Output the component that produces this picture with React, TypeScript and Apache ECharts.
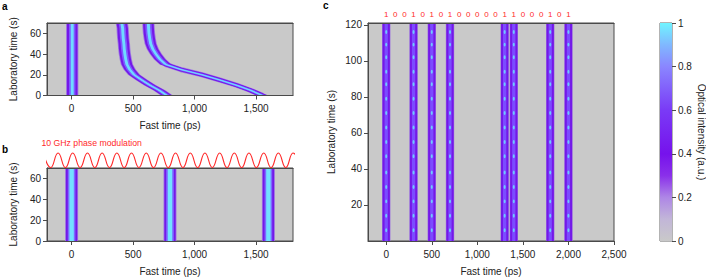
import React, { useEffect, useRef } from 'react';
import * as echarts from 'echarts';

const FONT = '"Liberation Sans", Arial, Helvetica, sans-serif';
const INK = '#222222';
const FRAME = '#4a4a4a';
const BG = '#c9c9c9';
const RED = '#ff2a2a';

// ---- Panel a: pulse centre (ps) at each laboratory time (s)
const labTimeA = [70, 65, 60, 55, 50, 45, 40, 35, 30, 25, 20, 15, 10, 5, 0];
const pulseA1 = [5, 5, 5, 5, 5, 5, 5, 5, 5, 5, 5, 5, 5, 5, 5];
const pulseA2 = [408, 415, 417, 420, 425, 428, 433, 440, 450, 472, 508, 570, 637, 712, 775];
const pulseA3 = [624, 626, 629, 635, 643, 660, 685, 718, 765, 890, 1060, 1205, 1340, 1455, 1551];

// ---- Panel b
const labTimeB = [0, 70];
const pulseCentresB = [0, 800, 1600];
const modPeaksX = [-229, -110, 9, 129, 248, 368, 487, 607, 726, 845, 965, 1084, 1204, 1323, 1442, 1562, 1681, 1800];
const modTroughsX = [-170, -50, 69, 189, 308, 428, 547, 666, 786, 905, 1025, 1144, 1263, 1383, 1502, 1622, 1741, 1860];

// ---- Panel c
const bitsC = ['1', '0', '0', '1', '0', '1', '0', '1', '0', '0', '0', '0', '0', '1', '1', '0', '0', '0', '1', '0', '1'];
const bitSlotsC = [0, 100, 200, 300, 400, 500, 600, 700, 800, 900, 1000, 1100, 1200, 1300, 1400, 1500, 1600, 1700, 1800, 1900, 2000];
const labTimeC = [0, 121];
const brightTimesC = [6, 14, 22, 30, 38, 47, 55, 63, 71, 79, 87, 94, 102, 109, 116];

// ---- ticks
const labTicksAB = [0, 20, 40, 60];
const fastTicksAB = [0, 500, 1000, 1500];
const fastTicksC = [0, 500, 1000, 1500, 2000, 2500];
const labTicksC = [20, 40, 60, 80, 100, 120];
const intensityTicks = [0, 0.2, 0.4, 0.6, 0.8, 1];

type Layer = { half: number; fill: string; line: number };
const layersA: Layer[] = [
  { half: 50, fill: '#a07ae2', line: 5.2 },
  { half: 43, fill: '#7418e8', line: 4 },
  { half: 26, fill: '#7c5cff', line: 2.1 },
  { half: 12, fill: '#6fdcff', line: 0.9 },
];
const layersB: Layer[] = [
  { half: 53, fill: '#a07ae2', line: 0 },
  { half: 46, fill: '#7418e8', line: 0 },
  { half: 31, fill: '#7c6aff', line: 0 },
  { half: 18, fill: '#72e2ff', line: 0 },
];
const layersC: Layer[] = [
  { half: 46, fill: '#9a6ee0', line: 0 },
  { half: 40, fill: '#7418e8', line: 0 },
  { half: 18, fill: '#7b4cff', line: 0 },
];

function pulseSeries(xi: number, yi: number, times: number[], centres: number[], layers: Layer[]) {
  return {
    type: 'custom',
    xAxisIndex: xi,
    yAxisIndex: yi,
    clip: true,
    silent: true,
    z: 3,
    data: layers.map(() => [centres[0], times[0]]),
    renderItem: (params: any, api: any) => {
      const L = layers[params.dataIndex];
      const left = times.map((t, i) => api.coord([centres[i] - L.half, t]));
      const right = times.map((t, i) => api.coord([centres[i] + L.half, t])).reverse();
      const children: any[] = [
        { type: 'polygon', shape: { points: left.concat(right) }, style: { fill: L.fill } },
      ];
      if (L.line > 0) {
        children.push({
          type: 'polyline',
          shape: { points: times.map((t, i) => api.coord([centres[i], t])) },
          style: { stroke: L.fill, lineWidth: L.line, fill: null, lineJoin: 'round' },
        });
      }
      return { type: 'group', children };
    },
  };
}

const labelStyle = { color: INK, fontSize: 10, fontFamily: FONT };
const nameStyle = { color: INK, fontSize: 10, fontFamily: FONT };
const lineStyle = { show: true, onZero: false, lineStyle: { color: FRAME, width: 1 } };
const fmtThousands = (v: number) => Number(v).toLocaleString('en-US');

function bottomAxis(grid: number, max: number, ticks: number[]) {
  return {
    type: 'value', gridIndex: grid, position: 'bottom', min: -200, max, z: 5,
    axisLine: lineStyle,
    axisTick: { show: true, length: 4, customValues: ticks, lineStyle: { color: FRAME } },
    axisLabel: { ...labelStyle, margin: 8, customValues: ticks, formatter: fmtThousands },
    splitLine: { show: false },
    name: 'Fast time (ps)', nameLocation: 'middle', nameGap: 25, nameTextStyle: nameStyle,
  };
}
function topLine(grid: number, max: number) {
  return {
    type: 'value', gridIndex: grid, position: 'top', min: -200, max, z: 5,
    axisLine: lineStyle, axisTick: { show: false }, axisLabel: { show: false }, splitLine: { show: false },
  };
}
function leftAxis(grid: number, max: number, ticks: number[], gap: number) {
  return {
    type: 'value', gridIndex: grid, position: 'left', min: 0, max, z: 5,
    axisLine: lineStyle,
    axisTick: { show: true, length: 4, customValues: ticks, lineStyle: { color: FRAME } },
    axisLabel: { ...labelStyle, margin: 6, customValues: ticks },
    splitLine: { show: false },
    name: 'Laboratory time (s)', nameLocation: 'middle', nameGap: gap, nameTextStyle: nameStyle,
  };
}

export default function App() {
  const ref = useRef<HTMLDivElement>(null);
  useEffect(() => {
    if (!ref.current) return;
    const chart = echarts.init(ref.current, null, { renderer: 'svg' });

    const modData = [
      ...modPeaksX.map((x) => [x, 1]),
      ...modTroughsX.map((x) => [x, -1]),
    ].sort((a, b) => a[0] - b[0]);

    const pulsesC = bitSlotsC.filter((_, i) => bitsC[i] === '1');
    const spotData: number[][] = [];
    pulsesC.forEach((x) => brightTimesC.forEach((t) => spotData.push([x, t])));

    const gridBase = { show: true, backgroundColor: BG, borderColor: FRAME, borderWidth: 1, outerBoundsMode: 'none', containLabel: false };

    const option: any = {
      animation: false,
      backgroundColor: '#ffffff',
      textStyle: { fontFamily: FONT },
      grid: [
        { ...gridBase, left: 47, top: 23, width: 246, height: 72.5 },
        { show: false, left: 47, top: 151.5, width: 246, height: 17.5, outerBoundsMode: 'none', containLabel: false },
        { ...gridBase, left: 47, top: 168, width: 246, height: 73 },
        { ...gridBase, left: 368, top: 23, width: 246, height: 218 },
        { show: true, backgroundColor: 'transparent', borderColor: '#666', borderWidth: 1, left: 660, top: 23, width: 12, height: 218, outerBoundsMode: 'none', containLabel: false },
      ],
      xAxis: [
        bottomAxis(0, 1800, fastTicksAB),
        { type: 'value', gridIndex: 1, min: -200, max: 1800, show: false },
        bottomAxis(2, 1800, fastTicksAB),
        bottomAxis(3, 2500, fastTicksC),
        { type: 'category', gridIndex: 4, data: ['I'], show: false },
        {
          type: 'value', gridIndex: 3, position: 'top', min: -200, max: 2500, z: 5,
          axisLine: lineStyle, axisTick: { show: false }, splitLine: { show: false },
          axisLabel: {
            color: RED, fontSize: 8, fontFamily: FONT, margin: 5, customValues: bitSlotsC,
            formatter: (v: number) => bitsC[Math.round(v / 100)] ?? '',
          },
        },
        topLine(0, 1800),
        topLine(2, 1800),
      ],
      yAxis: [
        leftAxis(0, 70, labTicksAB, 29),
        { type: 'value', gridIndex: 1, min: -1.2, max: 1.2, show: false },
        leftAxis(2, 70, labTicksAB, 29),
        leftAxis(3, 121, labTicksC, 32),
        {
          type: 'value', gridIndex: 4, position: 'right', min: 0, max: 1, z: 5,
          axisLine: { show: false, onZero: false },
          axisTick: { show: true, length: 4, customValues: intensityTicks, lineStyle: { color: FRAME } },
          axisLabel: { ...labelStyle, margin: 6, customValues: intensityTicks, formatter: (v: number) => String(Number(v.toFixed(1))) },
          splitLine: { show: false },
          name: 'Optical intensity (a.u.)', nameLocation: 'middle', nameRotate: -90, nameGap: 24, nameTextStyle: nameStyle,
        },
      ],
      series: [
        pulseSeries(0, 0, labTimeA, pulseA1, layersA),
        pulseSeries(0, 0, labTimeA, pulseA2, layersA),
        pulseSeries(0, 0, labTimeA, pulseA3, layersA),
        ...pulseCentresB.map((c) => pulseSeries(2, 2, labTimeB, labTimeB.map(() => c), layersB)),
        ...pulsesC.map((c) => pulseSeries(3, 3, labTimeC, labTimeC.map(() => c), layersC)),
        {
          type: 'custom', xAxisIndex: 3, yAxisIndex: 3, clip: true, silent: true, z: 4,
          data: spotData,
          renderItem: (params: any, api: any) => {
            const p = api.coord([api.value(0), api.value(1)]);
            const s = api.size([11, 1.1]);
            return { type: 'ellipse', shape: { cx: p[0], cy: p[1], rx: s[0], ry: s[1] }, style: { fill: '#70c8ff' } };
          },
        },
        {
          type: 'line', xAxisIndex: 1, yAxisIndex: 1, data: modData, smooth: 0.5,
          symbol: 'none', showSymbol: false, clip: true, silent: true,
          lineStyle: { color: RED, width: 1.1 },
        },
        {
          type: 'bar', xAxisIndex: 4, yAxisIndex: 4, data: [1], barWidth: '100%', silent: true,
          itemStyle: {
            color: new echarts.graphic.LinearGradient(0, 1, 0, 0, [
              { offset: 0, color: '#c9c9c9' },
              { offset: 0.1, color: '#c2b6d8' },
              { offset: 0.2, color: '#ae86e6' },
              { offset: 0.3, color: '#8a30ea' },
              { offset: 0.4, color: '#7612ec' },
              { offset: 0.6, color: '#7a3af6' },
              { offset: 0.8, color: '#8a86ff' },
              { offset: 0.9, color: '#80b8ff' },
              { offset: 1, color: '#70f4ff' },
            ]),
          },
        },
      ],
      graphic: [
        { type: 'text', x: 2, y: 6, style: { text: 'a', fontSize: 10, fontWeight: 'bold', fontFamily: FONT, fill: '#000', verticalAlign: 'middle' } },
        { type: 'text', x: 2, y: 149, style: { text: 'b', fontSize: 10, fontWeight: 'bold', fontFamily: FONT, fill: '#000', verticalAlign: 'middle' } },
        { type: 'text', x: 323, y: 5, style: { text: 'c', fontSize: 10, fontWeight: 'bold', fontFamily: FONT, fill: '#000', verticalAlign: 'middle' } },
        { type: 'text', x: 41.5, y: 142.5, style: { text: '10 GHz phase modulation', fontSize: 8.7, fontFamily: FONT, fill: RED, verticalAlign: 'middle' } },
      ],
    };
    chart.setOption(option);
    return () => chart.dispose();
  }, []);
  return (
    <div
      ref={ref}
      style={{ position: 'absolute', left: 0, top: 0, width: 706, height: 278, background: '#fff' }}
    />
  );
}
